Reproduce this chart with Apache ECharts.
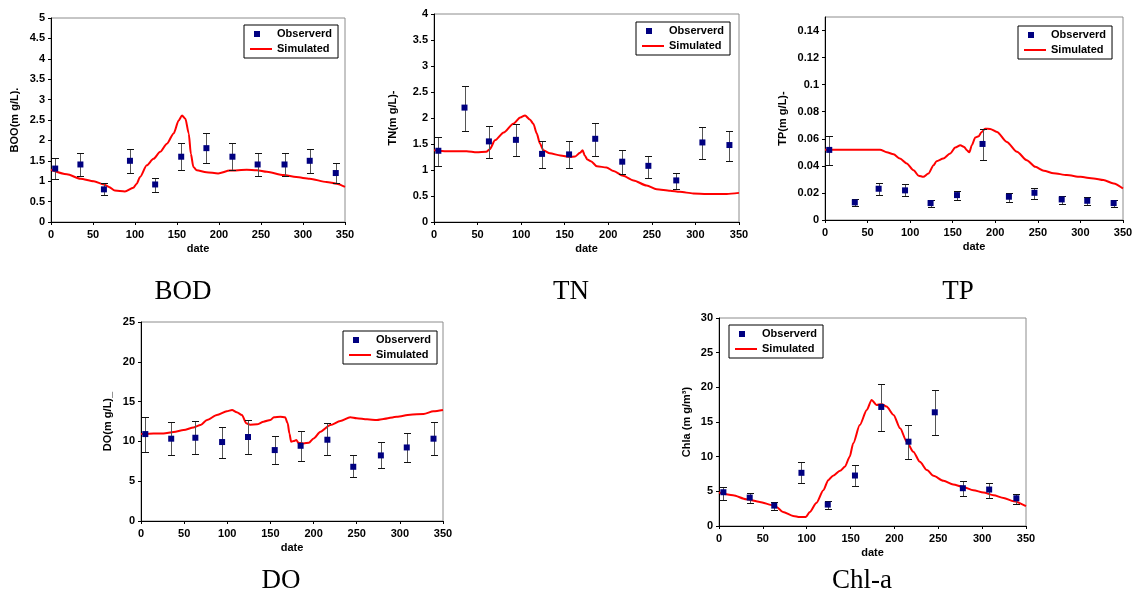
<!DOCTYPE html>
<html>
<head>
<meta charset="utf-8">
<script src="https://cdn.jsdelivr.net/npm/echarts@6/dist/echarts.min.js"></script>
<style>
html,body{margin:0;padding:0;background:#fff;}
#chart{width:1136px;height:594px;}
</style>
</head>
<body>
<div id="chart"></div>
<script>
// ---------------- DATA ----------------
var obsDays = [5, 35, 63, 94, 124, 155, 185, 216, 246, 278, 308, 339];
var xTicks = [0, 50, 100, 150, 200, 250, 300, 350];

// BOD
var bodObs = [1.31, 1.41, 0.80, 1.50, 0.92, 1.60, 1.81, 1.60, 1.41, 1.41, 1.50, 1.20];
var bodLo  = [1.05, 1.12, 0.66, 1.20, 0.73, 1.28, 1.45, 1.28, 1.13, 1.13, 1.20, 0.95];
var bodHi  = [1.56, 1.70, 0.95, 1.80, 1.08, 1.93, 2.17, 1.93, 1.70, 1.70, 1.80, 1.45];
var bodSimDay = [0, 19, 35, 51, 63, 69, 76, 88, 98, 102, 106, 114, 122, 130, 138, 146, 152, 156, 160, 164, 166.5, 169.5, 173.5, 185, 199, 213, 233, 245, 257, 277, 292, 308, 328, 340, 350];
var bodSimVal = [1.28, 1.17, 1.06, 1.00, 0.92, 0.86, 0.77, 0.75, 0.84, 0.94, 1.10, 1.39, 1.55, 1.72, 1.92, 2.17, 2.49, 2.61, 2.53, 2.17, 1.67, 1.35, 1.27, 1.22, 1.19, 1.26, 1.28, 1.27, 1.23, 1.15, 1.10, 1.06, 0.98, 0.94, 0.86];

// TN
var tnObs = [1.37, 2.20, 1.55, 1.58, 1.31, 1.30, 1.60, 1.16, 1.08, 0.80, 1.53, 1.48];
var tnLo  = [1.08, 1.75, 1.24, 1.26, 1.03, 1.03, 1.27, 0.92, 0.85, 0.63, 1.21, 1.18];
var tnHi  = [1.63, 2.62, 1.85, 1.89, 1.55, 1.55, 1.91, 1.38, 1.27, 0.94, 1.82, 1.75];
var tnSimDay = [0, 14.5, 37.5, 49, 60, 64, 70, 80, 91, 99, 104.5, 110, 114, 118, 121.5, 125.5, 133, 145, 156, 162, 167.5, 170.5, 173, 176, 180, 187, 198, 206, 217, 229, 244, 255.5, 271, 282, 297.5, 313, 336, 350];
var tnSimVal = [1.38, 1.36, 1.36, 1.34, 1.35, 1.40, 1.57, 1.72, 1.89, 2.01, 2.05, 1.97, 1.89, 1.70, 1.51, 1.38, 1.32, 1.28, 1.25, 1.26, 1.33, 1.38, 1.28, 1.20, 1.17, 1.07, 1.05, 0.98, 0.89, 0.80, 0.70, 0.63, 0.60, 0.58, 0.55, 0.54, 0.54, 0.56];

// TP
var tpObs = [0.0518, 0.0130, 0.0231, 0.0219, 0.0125, 0.0184, 0.0562, 0.0172, 0.0201, 0.0152, 0.0142, 0.0125];
var tpLo  = [0.0410, 0.0106, 0.0182, 0.0175, 0.0098, 0.0147, 0.0442, 0.0135, 0.0157, 0.0120, 0.0111, 0.0098];
var tpHi  = [0.0620, 0.0155, 0.0273, 0.0263, 0.0145, 0.0217, 0.0669, 0.0202, 0.0238, 0.0180, 0.0172, 0.0145];
var tpSimDay = [0, 64.7, 72.5, 80.5, 88, 96, 104, 110, 115.5, 121.5, 127.5, 131, 139, 147, 153, 159, 163.5, 166.5, 169.5, 172.5, 176.5, 180.5, 184, 188, 194, 202, 213.5, 225.5, 237, 247, 257, 268.5, 284, 300, 315.5, 327, 339, 350];
var tpSimVal = [0.052, 0.052, 0.050, 0.0486, 0.0454, 0.0418, 0.0368, 0.0327, 0.0319, 0.0344, 0.0405, 0.0435, 0.0454, 0.0491, 0.0535, 0.0553, 0.054, 0.0516, 0.050, 0.0553, 0.061, 0.0619, 0.0651, 0.0675, 0.0673, 0.0651, 0.0577, 0.0504, 0.0442, 0.0393, 0.0364, 0.0346, 0.0332, 0.0319, 0.0307, 0.0295, 0.0270, 0.0233];

// DO
var doObs = [10.92, 10.34, 10.46, 9.92, 10.55, 8.91, 9.45, 10.21, 6.81, 8.24, 9.24, 10.34];
var doLo  = [8.70, 8.24, 8.36, 7.86, 8.45, 7.14, 7.56, 8.24, 5.50, 6.60, 7.39, 8.24];
var doHi  = [13.03, 12.44, 12.56, 11.76, 12.65, 10.71, 11.34, 12.27, 8.24, 9.87, 11.09, 12.44];
var doSimDay = [0, 14.5, 26, 38, 49.5, 61, 69, 76.5, 88, 99.5, 105.5, 111, 117, 122, 126.5, 134.5, 142, 150, 154, 161.5, 167, 170, 172, 174, 177, 180, 182.5, 188.5, 194.5, 200, 208, 219.5, 231, 242.5, 250, 262, 273.5, 281, 296.5, 312, 327.5, 339, 350];
var doSimVal = [10.92, 11.0, 11.0, 11.18, 11.43, 11.76, 12.06, 12.69, 13.32, 13.78, 13.95, 13.66, 13.32, 12.27, 12.10, 12.14, 12.48, 12.69, 13.03, 13.11, 13.03, 12.27, 11.0, 9.96, 10.04, 10.17, 9.83, 9.75, 9.83, 10.38, 11.22, 12.06, 12.56, 13.03, 12.90, 12.77, 12.69, 12.82, 13.11, 13.36, 13.45, 13.78, 13.95];

// Chl-a
var chlObs = [4.87, 4.10, 2.94, 7.67, 3.09, 7.28, 17.17, 12.16, 16.40, 5.45, 5.26, 4.00];
var chlLo  = [3.81, 3.33, 2.36, 6.13, 2.41, 5.84, 13.70, 9.70, 13.07, 4.29, 4.10, 3.14];
var chlHi  = [5.60, 4.82, 3.52, 9.17, 3.62, 8.73, 20.55, 14.52, 19.59, 6.56, 6.13, 4.68];
var chlSimDay = [0, 16, 31, 46.5, 61.5, 65.5, 73, 84.5, 92, 99, 103.5, 111, 119, 124.5, 130, 138, 143.5, 149, 153, 160.5, 168.5, 174, 179.5, 185.5, 191, 199, 206.5, 214, 221.5, 229, 237, 244.5, 256, 267, 278.5, 290, 301.5, 313, 324.5, 336, 350];
var chlSimVal = [4.82, 4.44, 3.86, 3.47, 2.99, 2.75, 2.03, 1.45, 1.30, 1.30, 2.03, 3.33, 5.16, 6.61, 7.24, 7.96, 8.54, 9.99, 11.92, 14.57, 16.74, 18.19, 17.46, 17.61, 17.22, 16.02, 14.09, 12.16, 10.71, 9.26, 8.06, 7.24, 6.51, 5.98, 5.64, 5.16, 4.82, 4.44, 4.05, 3.57, 2.85];

// Panel texts
var panelTitles = ['BOD', 'TN', 'TP', 'DO', 'Chl-a'];
var yNames = ['BOO(m g/L).', 'TN(m g/L)-', 'TP(m g/L)-', 'DO(m g/L)_', 'Chla (m g/m\u00b3)'];
var xName = 'date';
var legendNames = ['Observerd', 'Simulated'];

// ---------------- LAYOUT ----------------
var panels = [
  {obs: bodObs, lo: bodLo, hi: bodHi, sd: bodSimDay, sv: bodSimVal, grid: {left: 51, top: 18, width: 294, height: 204}, y: {min: 0, max: 5, interval: 0.5}, nameGap: 31, legend: {left: 244, top: 25}, title: {x: 178, y: 273}},
  {obs: tnObs, lo: tnLo, hi: tnHi, sd: tnSimDay, sv: tnSimVal, grid: {left: 434, top: 14, width: 305, height: 208}, y: {min: 0, max: 4, interval: 0.5}, nameGap: 36, legend: {left: 636, top: 22}, title: {x: 566, y: 273}},
  {obs: tpObs, lo: tpLo, hi: tpHi, sd: tpSimDay, sv: tpSimVal, grid: {left: 825, top: 17, width: 298, height: 203}, y: {min: 0, max: 0.15, interval: 0.02}, nameGap: 37, legend: {left: 1018, top: 26}, title: {x: 953, y: 273}},
  {obs: doObs, lo: doLo, hi: doHi, sd: doSimDay, sv: doSimVal, grid: {left: 141, top: 322, width: 302, height: 199}, y: {min: 0, max: 25, interval: 5}, nameGap: 28, legend: {left: 343, top: 331}, title: {x: 276, y: 562}},
  {obs: chlObs, lo: chlLo, hi: chlHi, sd: chlSimDay, sv: chlSimVal, grid: {left: 719, top: 318, width: 307, height: 208}, y: {min: 0, max: 30, interval: 5}, nameGap: 27, legend: {left: 729, top: 325}, title: {x: 857, y: 562}}
];

var labelFont = {fontFamily: 'Liberation Sans, Arial, sans-serif', fontWeight: 'bold', fontSize: 11, color: '#000'};

var option = {
  backgroundColor: '#fff',
  animation: false,
  title: [], grid: [], xAxis: [], yAxis: [], legend: [], series: []
};

function errRender(params, api) {
  var x = api.value(0), lo = api.value(1), hi = api.value(2);
  var a = api.coord([x, lo]), b = api.coord([x, hi]);
  var cx = Math.round(a[0]) + 0.5;
  var y1 = Math.round(a[1]) + 0.5, y2 = Math.round(b[1]) + 0.5;
  var w = 3.5;
  return {
    type: 'group',
    children: [
      {type: 'line', shape: {x1: cx, y1: y1, x2: cx, y2: y2}, style: {stroke: '#555', lineWidth: 1}},
      {type: 'line', shape: {x1: cx - w, y1: y1, x2: cx + w, y2: y1}, style: {stroke: '#111', lineWidth: 1}},
      {type: 'line', shape: {x1: cx - w, y1: y2, x2: cx + w, y2: y2}, style: {stroke: '#111', lineWidth: 1}}
    ]
  };
}

panels.forEach(function (p, i) {
  option.title.push({
    text: panelTitles[i], left: p.title.x, top: p.title.y, textAlign: 'center',
    textStyle: {fontFamily: 'Liberation Serif, serif', fontWeight: 'normal', fontSize: 27, color: '#000'}
  });
  option.grid.push({
    left: p.grid.left, top: p.grid.top, width: p.grid.width, height: p.grid.height,
    show: true, borderColor: '#8c8c8c', borderWidth: 1, backgroundColor: '#fff'
  });
  option.xAxis.push({
    type: 'value', gridIndex: i, min: xTicks[0], max: xTicks[xTicks.length - 1], interval: xTicks[1] - xTicks[0],
    name: xName, nameLocation: 'middle', nameGap: 21, nameTextStyle: labelFont,
    axisLine: {show: true, lineStyle: {color: '#000', width: 1}},
    axisTick: {show: true, length: 3, lineStyle: {color: '#000'}},
    axisLabel: Object.assign({margin: 7}, labelFont),
    splitLine: {show: false}
  });
  option.yAxis.push({
    type: 'value', gridIndex: i, min: p.y.min, max: p.y.max, interval: p.y.interval,
    name: yNames[i], nameLocation: 'middle', nameGap: p.nameGap, nameRotate: 90, nameTextStyle: labelFont,
    axisLine: {show: true, lineStyle: {color: '#000', width: 1}},
    axisTick: {show: true, length: 3, lineStyle: {color: '#000'}},
    axisLabel: Object.assign({margin: 6, showMaxLabel: (p.y.max / p.y.interval) % 1 === 0 ? true : false}, labelFont),
    splitLine: {show: false}
  });
  option.legend.push({
    left: p.legend.left, top: p.legend.top, orient: 'vertical',
    borderColor: '#000', borderWidth: 1, padding: [3, 6, 3, 6], itemGap: 3,
    itemWidth: 22, itemHeight: 12, backgroundColor: '#fff',
    textStyle: {fontFamily: 'Liberation Sans, Arial, sans-serif', fontWeight: 'bold', fontSize: 11, color: '#000'},
    selectedMode: false,
    data: [
      {name: legendNames[0], icon: 'path://M0,0M22,12M4,3L10,3L10,9L4,9Z'},
      {name: legendNames[1], icon: 'path://M0,0M22,12M0,5L22,5L22,7L0,7Z'}
    ]
  });
  var simData = p.sd.map(function (d, k) { return [d, p.sv[k]]; });
  var errData = obsDays.map(function (d, k) { return [d, p.lo[k], p.hi[k]]; });
  var obsData = obsDays.map(function (d, k) { return [d, p.obs[k]]; });
  option.series.push({
    name: legendNames[1], type: 'line', xAxisIndex: i, yAxisIndex: i, data: simData,
    symbol: 'none', smooth: 0.25, smoothMonotone: 'x',
    lineStyle: {color: '#ff0000', width: 2}, itemStyle: {color: '#ff0000'}, z: 2
  });
  option.series.push({
    name: 'err' + i, type: 'custom', xAxisIndex: i, yAxisIndex: i, data: errData,
    renderItem: errRender, z: 3, silent: true
  });
  option.series.push({
    name: legendNames[0], type: 'scatter', xAxisIndex: i, yAxisIndex: i, data: obsData,
    symbol: 'rect', symbolSize: 6, itemStyle: {color: '#000080', opacity: 1}, z: 4
  });
});

var chart = echarts.init(document.getElementById('chart'), null, {renderer: 'canvas'});
chart.setOption(option);
</script>
</body>
</html>
